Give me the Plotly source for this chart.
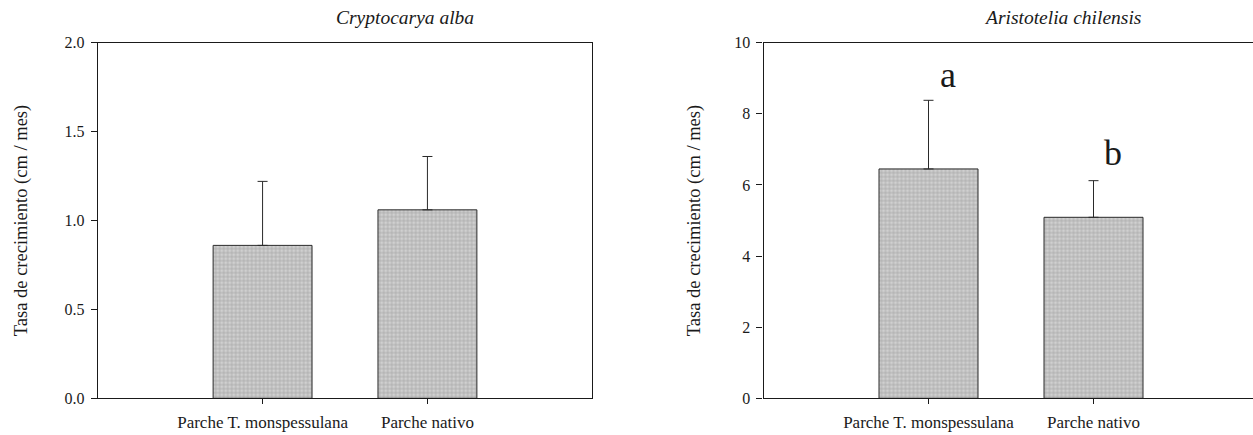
import plotly.graph_objects as go

# Growth rate (cm / month) per patch type, mean and upper standard error
categories = ["Parche T. monspessulana", "Parche nativo"]

crypto_mean = [0.86, 1.06]
crypto_err = [0.36, 0.30]

aristo_mean = [6.45, 5.09]
aristo_err = [1.93, 1.03]

aristo_letters = ["a", "b"]
aristo_letter_y = [9.1, 6.9]

species_titles = ["Cryptocarya alba", "Aristotelia chilensis"]
left_ticks = [0.0, 0.5, 1.0, 1.5, 2.0]
right_ticks = [0, 2, 4, 6, 8, 10]
y_title = "Tasa de crecimiento (cm / mes)"

W, H = 1253, 435
FONT = "Liberation Serif, Times New Roman, serif"
INK = "#1a1a1a"

bar_marker = dict(
    color="#d0d0d0",
    line=dict(color="#2a2a2a", width=1),
    pattern=dict(shape="+", fgcolor="#7c7c7c", bgcolor="#d0d0d0", size=4, solidity=0.35),
)

def err_bar(vals):
    return dict(type="data", symmetric=False, array=vals, arrayminus=[0] * len(vals),
                color="#2a2a2a", thickness=1, width=5)

fig = go.Figure()
fig.add_trace(go.Bar(x=categories, y=crypto_mean, width=0.6, marker=bar_marker,
                     error_y=err_bar(crypto_err), xaxis="x", yaxis="y", showlegend=False))
fig.add_trace(go.Bar(x=categories, y=aristo_mean, width=0.6, marker=bar_marker,
                     error_y=err_bar(aristo_err), xaxis="x2", yaxis="y2", showlegend=False))

ydom = [1 - 398.3 / H, 1 - 42.7 / H]
left_dom = [97.7 / W, 592.3 / W]
right_dom = [763.5 / W, 1.0]
right_end = -1 + (W - 763.5) / 165.0

common_x = dict(type="category", showgrid=False, zeroline=False, showline=True,
                linecolor=INK, linewidth=1.2, ticks="outside", ticklen=5, tickcolor=INK,
                tickfont=dict(family=FONT, size=17, color=INK), ticklabelstandoff=3,
                automargin=False, fixedrange=True)
common_y = dict(showgrid=False, zeroline=False, showline=True, linecolor=INK, linewidth=1.2,
                ticks="outside", ticklen=6, tickcolor=INK,
                tickfont=dict(family=FONT, size=16, color=INK),
                ticklabelstandoff=3, automargin=False)
ytitle_font = dict(family=FONT, size=18.5, color=INK)

fig.update_layout(
    width=W, height=H,
    margin=dict(l=0, r=0, t=0, b=0),
    paper_bgcolor="white", plot_bgcolor="white",
    font=dict(family=FONT, color=INK),
    xaxis=dict(common_x, domain=left_dom, range=[-1, 2], anchor="y", mirror=True),
    yaxis=dict(common_y, domain=ydom, range=[0, 2], anchor="x", mirror=True,
               tickvals=left_ticks, ticktext=[f"{v:.1f}" for v in left_ticks],
               title=dict(text=y_title, font=ytitle_font, standoff=31)),
    xaxis2=dict(common_x, domain=right_dom, range=[-1, right_end], anchor="y2", mirror=True),
    yaxis2=dict(common_y, domain=ydom, range=[0, 10], anchor="x2", mirror=False,
                tickvals=right_ticks, ticktext=[str(v) for v in right_ticks],
                title=dict(text=y_title, font=ytitle_font, standoff=28)),
)

# species titles above each panel
for txt, xc in zip(species_titles, [405 / W, 1062 / W]):
    fig.add_annotation(text=f"<i>{txt}</i>", xref="paper", yref="paper", x=xc, y=1 - 18 / H,
                       showarrow=False, font=dict(family=FONT, size=19.5, color=INK),
                       xanchor="center", yanchor="middle")

# significance letters
for i, (lab, ly) in enumerate(zip(aristo_letters, aristo_letter_y)):
    fig.add_annotation(text=lab, x=categories[i], y=ly, xref="x2", yref="y2", xshift=19,
                       showarrow=False, font=dict(family=FONT, size=36, color=INK),
                       xanchor="center", yanchor="middle")

fig.write_html("out.html")
